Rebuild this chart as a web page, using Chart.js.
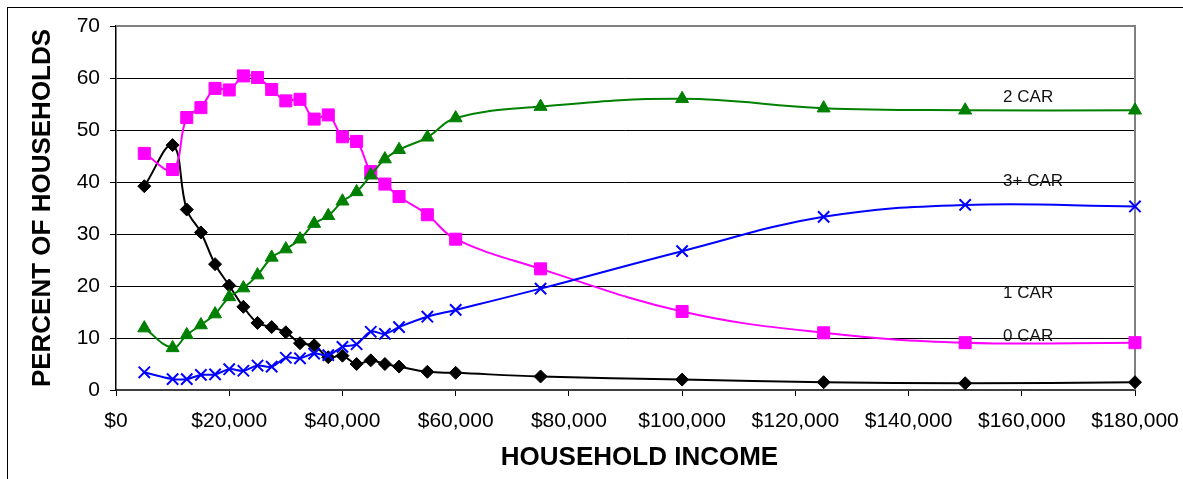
<!DOCTYPE html>
<html>
<head>
<meta charset="utf-8">
<script src="https://cdn.jsdelivr.net/npm/chart.js@4.4.0/dist/chart.umd.min.js"></script>
<style>
  html, body { margin: 0; padding: 0; background: #fff; }
  #wrap { position: relative; width: 1183px; height: 479px; overflow: hidden; }
  #frame { position: absolute; left: 7px; top: 7px; width: 1300px; height: 600px; border: 1px solid #000; pointer-events: none; }
</style>
</head>
<body>
<div id="wrap">
  <canvas id="chart" width="1183" height="479"></canvas>
  <div id="frame"></div>
</div>
<script>
// household income (x) for every point
const incomes = [5000, 10000, 12500, 15000, 17500, 20000, 22500, 25000, 27500, 30000,
  32500, 35000, 37500, 40000, 42500, 45000, 47500, 50000, 55000, 60000,
  75000, 100000, 125000, 150000, 180000];

// percent of households by cars owned
const car0 = [39.2, 47.1, 34.7, 30.3, 24.2, 20.1, 16.0, 12.9, 12.1, 11.1,
  9.0, 8.6, 6.3, 6.6, 5.0, 5.7, 5.0, 4.5, 3.5, 3.3,
  2.6, 2.0, 1.5, 1.3, 1.5];
const car1 = [45.5, 42.4, 52.4, 54.3, 58.0, 57.7, 60.4, 60.1, 57.8, 55.6,
  55.9, 52.1, 52.9, 48.7, 47.8, 42.0, 39.6, 37.2, 33.7, 29.0,
  23.3, 15.1, 11.0, 9.1, 9.1];
const car2 = [11.9, 8.1, 10.6, 12.5, 14.6, 17.9, 19.6, 22.1, 25.5, 27.1,
  29.0, 32.0, 33.5, 36.3, 38.1, 41.3, 44.4, 46.2, 48.6, 52.3,
  54.5, 56.0, 54.2, 53.8, 53.8];
const car3 = [3.4, 2.1, 2.1, 2.9, 3.0, 4.0, 3.7, 4.7, 4.5, 6.2,
  6.1, 7.0, 6.7, 8.3, 8.8, 11.2, 10.8, 12.1, 14.1, 15.4,
  19.5, 26.7, 33.3, 35.6, 35.3];

const seriesNames = ['0 CAR', '1 CAR', '2 CAR', '3+ CAR'];

// text labels written inside the plot (as in the original)
const noteText = ['2 CAR', '3+ CAR', '1 CAR', '0 CAR'];
const noteX = [156700, 156700, 156700, 156700];
const noteY = [55.4, 39.2, 17.7, 9.4];

const xTitle = 'HOUSEHOLD INCOME';
const yTitle = 'PERCENT OF HOUSEHOLDS';

const FONT = "'Liberation Sans', Arial, sans-serif";

function pts(ys){
  return incomes.map((x, i) => ({x: x, y: ys[i]}));
}

const plotFrame = {
  id: 'plotFrame',
  beforeDatasetsDraw(chart){
    const a = chart.chartArea, c = chart.ctx;
    c.save();
    c.strokeStyle = '#808080';
    c.lineWidth = 2;
    c.beginPath();
    c.moveTo(a.left, a.top);
    c.lineTo(a.right, a.top);
    c.lineTo(a.right, a.bottom);
    c.stroke();
    c.restore();
  },
  afterDatasetsDraw(chart){
    const c = chart.ctx, xs = chart.scales.x, ys = chart.scales.y;
    const a = chart.chartArea;
    c.save();
    c.fillStyle = '#111';
    c.font = '17px ' + FONT;
    c.textAlign = 'left';
    c.textBaseline = 'alphabetic';
    noteText.forEach((t, i) => {
      c.fillText(t, xs.getPixelForValue(noteX[i]), ys.getPixelForValue(noteY[i]));
    });
    // x axis title (sits a little right of the plot centre in the original)
    c.fillStyle = '#000';
    c.font = 'bold 26px ' + FONT;
    c.textAlign = 'center';
    c.textBaseline = 'middle';
    c.fillText(xTitle, (a.left + a.right) / 2 + 14, 458);
    c.restore();
  }
};

new Chart(document.getElementById('chart').getContext('2d'), {
  type: 'line',
  data: {
    datasets: [
      {
        label: seriesNames[3], data: pts(car3), order: 0,
        borderColor: '#0000FF', borderWidth: 2, tension: 0.4,
        pointStyle: 'crossRot', pointRadius: 8, pointBorderWidth: 2,
        pointBorderColor: '#0000FF', pointBackgroundColor: '#0000FF'
      },
      {
        label: seriesNames[2], data: pts(car2), order: 1,
        borderColor: '#008000', borderWidth: 2, tension: 0.4,
        pointStyle: 'triangle', pointRadius: 7.5, pointBorderWidth: 1,
        pointBorderColor: '#008000', pointBackgroundColor: '#008000'
      },
      {
        label: seriesNames[1], data: pts(car1), order: 2,
        borderColor: '#FF00FF', borderWidth: 2, tension: 0.4,
        pointStyle: 'rect', pointRadius: 8.5, pointBorderWidth: 1,
        pointBorderColor: '#FF00FF', pointBackgroundColor: '#FF00FF'
      },
      {
        label: seriesNames[0], data: pts(car0), order: 3,
        borderColor: '#000000', borderWidth: 2, tension: 0.4,
        pointStyle: 'rectRot', pointRadius: 6.5, pointBorderWidth: 1,
        pointBorderColor: '#000000', pointBackgroundColor: '#000000'
      }
    ]
  },
  options: {
    responsive: false,
    animation: false,
    devicePixelRatio: 1,
    clip: false,
    layout: { padding: { left: 0, top: 26, right: 48, bottom: 0 } },
    plugins: { legend: { display: false }, tooltip: { enabled: false } },
    scales: {
      x: {
        type: 'linear', min: 0, max: 180000,
        afterFit: (s) => { s.height = 89; s.paddingRight = 0; s.paddingLeft = 0; },
        ticks: {
          stepSize: 20000, color: '#000', padding: 13,
          font: { family: FONT, size: 21 },
          callback: (v) => '$' + Number(v).toLocaleString('en-US')
        },
        grid: { drawOnChartArea: false, drawTicks: true, tickLength: 6, color: '#000' },
        border: { color: '#404040', width: 2 },
        title: { display: false }
      },
      y: {
        min: 0, max: 70,
        afterFit: (s) => { s.width = 116; },
        ticks: {
          stepSize: 10, color: '#000', padding: 10,
          font: { family: FONT, size: 21 }
        },
        grid: {
          tickLength: 6, lineWidth: 1, tickColor: '#000',
          color: (ctx) => ctx.tick && ctx.tick.value === 70 ? 'rgba(0,0,0,0)' : '#000'
        },
        border: { color: '#000', width: 1.5 },
        title: {
          display: true, text: yTitle, color: '#000',
          font: { family: FONT, size: 26, weight: 'bold' },
          padding: { top: 27, bottom: 0 }
        }
      }
    }
  },
  plugins: [plotFrame]
});
</script>
</body>
</html>
